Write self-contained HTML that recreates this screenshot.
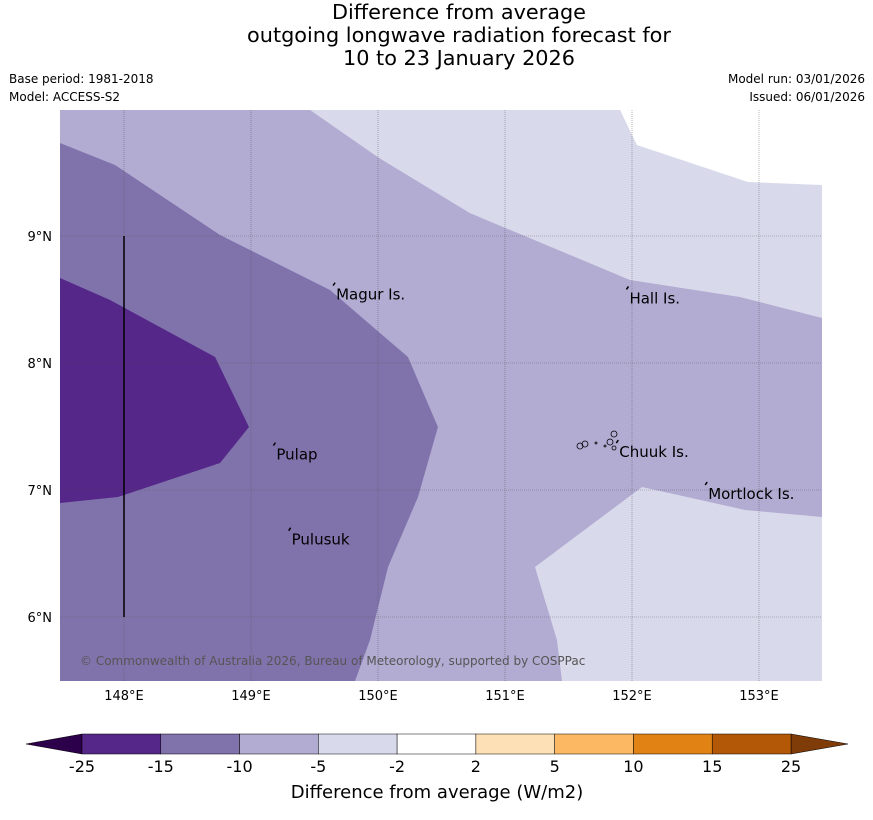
<!DOCTYPE html>
<html><head><meta charset="utf-8"><style>
body{margin:0;background:#fff;width:873px;height:816px;overflow:hidden;font-family:"DejaVu Sans","Liberation Sans",sans-serif}
</style></head><body>
<svg id="c" width="873" height="816" xmlns="http://www.w3.org/2000/svg" font-family="DejaVu Sans, Liberation Sans, sans-serif">
<g font-size="20.8" text-anchor="middle" fill="#000">
<text x="459" y="19">Difference from average</text>
<text x="459" y="42">outgoing longwave radiation forecast for</text>
<text x="459" y="65">10 to 23 January 2026</text>
</g>
<g font-size="12" fill="#000">
<text x="9" y="83">Base period: 1981-2018</text>
<text x="9" y="101">Model: ACCESS-S2</text>
<text x="865" y="83" text-anchor="end">Model run: 03/01/2026</text>
<text x="865" y="101" text-anchor="end">Issued: 06/01/2026</text>
</g>
<g id="map"></g>
<g id="cb"></g>
</svg>
<script>
const lonTicks=[148,149,150,151,152,153];
const latTicks=[6,7,8,9];
const mediumPoly=[[147.496,9.732],[147.929,9.559],[148.756,9.008],[149.622,8.575],[150.236,8.047],[150.472,7.496],[150.315,6.945],[150.079,6.394],[149.937,5.819],[149.819,5.496],[147.496,5.496]];
const darkPoly=[[147.496,8.669],[147.89,8.496],[148.717,8.047],[148.984,7.496],[148.756,7.213],[147.953,6.945],[147.496,6.898]];
const lightTopPoly=[[149.465,9.992],[150.0,9.62],[150.724,9.18],[151.984,8.654],[152.85,8.52],[153.496,8.354],[153.496,9.992]];
const whiteTopPoly=[[151.906,9.992],[152.039,9.717],[152.913,9.425],[153.496,9.402],[153.496,9.992]];
const lightBottomPoly=[[153.496,6.787],[152.89,6.843],[152.079,7.024],[151.236,6.394],[151.409,5.819],[151.449,5.496],[153.496,5.496]];
const places=[["Magur Is.",149.67,8.57],["Hall Is.",151.98,8.54],["Pulap",149.2,7.31],["Chuuk Is.",151.9,7.33],["Mortlock Is.",152.6,7.0],["Pulusuk",149.32,6.64]];
const cbLevels=["-25","-15","-10","-5","-2","2","5","10","15","25"];
const cbColors=["#542788","#8073ac","#b2abd2","#d8daeb","#ffffff","#fee0b6","#fdb863","#e08214","#b35806"];
const NS="http://www.w3.org/2000/svg";
const X=lon=>124+(lon-148)*127, Y=lat=>236-(lat-9)*127;
function mk(p,t,a){const e=document.createElementNS(NS,t);for(const k in a)e.setAttribute(k,a[k]);p.appendChild(e);return e;}
const map=document.getElementById('map');
let r=mk(map,'rect',{x:60,y:110,width:762,height:571,fill:'#b2abd2'});


function poly(pts,fill,name){const e=mk(map,'polygon',{points:pts.map(p=>X(p[0])+','+Y(p[1])).join(' '),fill:fill});

}
poly(mediumPoly,'#8073ac','contour-minus15-to-minus10');
poly(darkPoly,'#542788','contour-minus25-to-minus15');
poly(lightTopPoly,'#d8daeb','contour-minus5-to-minus2-north');
poly(whiteTopPoly,'#ffffff','contour-neutral-north');
poly(lightBottomPoly,'#d8daeb','contour-minus5-to-minus2-south');
lonTicks.forEach(v=>{const l=mk(map,'line',{x1:X(v),x2:X(v),y1:110,y2:681,stroke:'#555',"stroke-width":0.6,"stroke-dasharray":"1,1",opacity:0.7});


const t=mk(map,'text',{x:X(v),y:700,"font-size":13,"text-anchor":"middle"});t.textContent=v+'°E';

});
latTicks.forEach(v=>{const l=mk(map,'line',{x1:60,x2:822,y1:Y(v),y2:Y(v),stroke:'#555',"stroke-width":0.6,"stroke-dasharray":"1,1",opacity:0.7});


const t=mk(map,'text',{x:52,y:Y(v)+5,"font-size":13,"text-anchor":"end"});t.textContent=v+'°N';

});
let vl=mk(map,'line',{x1:X(148),x2:X(148),y1:Y(9),y2:Y(6),stroke:'#000',"stroke-width":1.5});


places.forEach(p=>{const x=X(p[1]),y=Y(p[2]);
const m=mk(map,'path',{d:`M${x-3},${y-5} l2,-3`,stroke:'#000',"stroke-width":1.5,fill:'none'});


const t=mk(map,'text',{x:x,y:y+9,"font-size":15});t.textContent=p[0];

});
let isl=mk(map,'g',{stroke:'#000',"stroke-width":0.8,fill:'none'});


[[580,446,3],[585,444,3],[596,443,1],[605,446,1],[610,442,3],[614,434,3],[614,448,2]].forEach(c=>mk(isl,'circle',{cx:c[0],cy:c[1],r:c[2]}));
let cp=mk(map,'text',{x:80,y:665,"font-size":12,fill:'#555'});cp.textContent='© Commonwealth of Australia 2026, Bureau of Meteorology, supported by COSPPac';


const cb=document.getElementById('cb');
const cx0=82,cw=(791-82)/cbColors.length,cy=734,ch=20;
let lt=mk(cb,'polygon',{points:`${cx0},${cy} 26,${cy+ch/2} ${cx0},${cy+ch}`,fill:'#2d004b',stroke:'#000',"stroke-width":0.5});


let rt=mk(cb,'polygon',{points:`791,${cy} 848,${cy+ch/2} 791,${cy+ch}`,fill:'#7f3b08',stroke:'#000',"stroke-width":0.5});


cbColors.forEach((c,i)=>{const b=mk(cb,'rect',{x:cx0+i*cw,y:cy,width:cw,height:ch,fill:c,stroke:'#000',"stroke-width":0.5});

});
cbLevels.forEach((v,i)=>{const t=mk(cb,'text',{x:cx0+i*cw,y:772,"font-size":16,"text-anchor":"middle"});t.textContent=v;

});
let ct=mk(cb,'text',{x:437,y:798,"font-size":18,"text-anchor":"middle"});ct.textContent='Difference from average (W/m2)';


</script>
</body></html>
